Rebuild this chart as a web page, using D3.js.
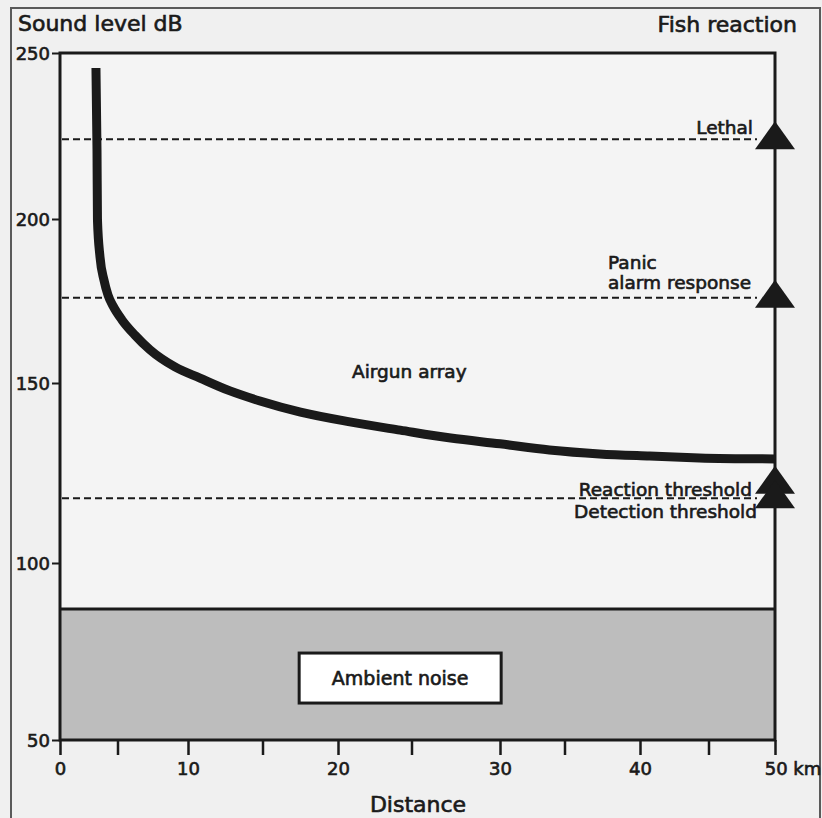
<!DOCTYPE html>
<html lang="en">
<head>
    <meta charset="UTF-8">
    <title>Sound level vs distance</title>
    <script src="https://cdnjs.cloudflare.com/ajax/libs/d3/7.8.5/d3.min.js"></script>
    <style>
        * {
            margin: 0;
            padding: 0;
        }
        body {
            background-color: #f0f0f0;
            width: 822px;
            height: 818px;
            overflow: hidden;
        }
        svg text {
            font-family: "DejaVu Sans", Arial, sans-serif;
            fill: #1a1a1a;
            stroke: #1a1a1a;
            stroke-width: 0.65px;
        }
    </style>
</head>
<body>
    <div id="chart"></div>

    <script>
        // sound level of the airgun array against distance
        const distanceKm = [3.1, 3.19, 3.23, 3.45, 3.79, 4.14, 4.57, 5.29, 6.21, 7.29, 9.07, 10.8,
            12.8, 14.8, 17.5, 20.8, 24.2, 27.2, 30.0, 33.8, 37.3, 40.7, 44.3, 50];
        const soundDb = [245.5, 220.8, 199.7, 188.4, 181.4, 176.8, 173.5, 169.2, 164.6, 160.1, 154.9, 151.5,
            147.8, 145.0, 141.9, 139.2, 136.9, 134.7, 133.1, 131.4, 130.3, 129.7, 129.2, 128.9];

        // fish reaction levels (dB)
        const reactionNames = ['Lethal', 'Panic', 'Reaction threshold', 'Detection threshold'];
        const reactionDb = [224, 176, 122, 118];
        const dashedLevels = [224, 176, 118];

        const ambientNoiseDb = [50, 87];

        const yTicks = [50, 100, 150, 200, 250];
        const xTicks = [0, 10, 20, 30, 40, 50];
        const xMinorTicks = [5, 15, 25, 35, 45];

        const W = 822, H = 818;

        const svg = d3.select('#chart')
            .append('svg')
            .attr('width', W)
            .attr('height', H);

        // the printed axes are not evenly spaced, so the scales follow the printed ticks
        const x = d3.scaleLinear()
            .domain([0, 5, 10, 15, 20, 25, 30, 35, 40, 45, 50])
            .range([60, 118, 188, 263, 338, 412, 500, 565, 640, 709, 775]);
        const y = d3.scaleLinear()
            .domain([50, 100, 150, 200, 250])
            .range([740, 563, 383, 219, 53]);

        // outer frame
        svg.append('path')
            .attr('d', `M11,${H} V8 H820 V${H}`)
            .attr('fill', 'none')
            .attr('stroke', '#5a5a5a')
            .attr('stroke-width', 2);

        // plot area
        svg.append('rect')
            .attr('x', x(0)).attr('y', y(250))
            .attr('width', x(50) - x(0)).attr('height', y(50) - y(250))
            .attr('fill', '#f4f4f4');

        // ambient noise band
        svg.append('rect')
            .attr('x', x(0)).attr('y', y(ambientNoiseDb[1]))
            .attr('width', x(50) - x(0))
            .attr('height', y(ambientNoiseDb[0]) - y(ambientNoiseDb[1]))
            .attr('fill', '#bdbdbd');
        svg.append('line')
            .attr('x1', x(0)).attr('x2', x(50))
            .attr('y1', y(ambientNoiseDb[1])).attr('y2', y(ambientNoiseDb[1]))
            .attr('stroke', '#1a1a1a').attr('stroke-width', 3);

        const noiseCx = x(24.2), noiseCy = y(67.5);
        svg.append('rect')
            .attr('x', noiseCx - 101).attr('y', noiseCy - 25)
            .attr('width', 202).attr('height', 50)
            .attr('fill', '#ffffff')
            .attr('stroke', '#1a1a1a').attr('stroke-width', 3);
        svg.append('text')
            .attr('x', noiseCx).attr('y', noiseCy + 7)
            .attr('text-anchor', 'middle')
            .attr('font-size', 19)
            .text('Ambient noise');

        // dashed reaction levels
        svg.append('g')
            .selectAll('line')
            .data(dashedLevels)
            .enter().append('line')
            .attr('x1', x(0) + 2).attr('x2', x(50) - 18)
            .attr('y1', d => y(d)).attr('y2', d => y(d))
            .attr('stroke', '#1a1a1a')
            .attr('stroke-width', 2)
            .attr('stroke-dasharray', '7,4');

        // plot box
        svg.append('rect')
            .attr('x', x(0)).attr('y', y(250))
            .attr('width', x(50) - x(0)).attr('height', y(50) - y(250))
            .attr('fill', 'none')
            .attr('stroke', '#1a1a1a')
            .attr('stroke-width', 3);

        // y axis
        const yAxis = svg.append('g')
            .attr('transform', `translate(${x(0)},0)`)
            .call(d3.axisLeft(y).tickValues(yTicks).tickSize(8).tickPadding(2));
        yAxis.select('.domain').remove();
        yAxis.selectAll('line').attr('stroke', '#1a1a1a').attr('stroke-width', 2);
        yAxis.selectAll('text')
            .attr('font-size', 18)
            .attr('dy', '0.36em')
            .style('font-family', '"DejaVu Sans", Arial, sans-serif');

        // x axis
        const xAxis = svg.append('g')
            .attr('transform', `translate(0,${y(50)})`)
            .call(d3.axisBottom(x).tickValues(xTicks).tickSize(15).tickPadding(7));
        xAxis.select('.domain').remove();
        xAxis.selectAll('line').attr('stroke', '#1a1a1a').attr('stroke-width', 2.5);
        xAxis.selectAll('text')
            .attr('font-size', 18)
            .style('font-family', '"DejaVu Sans", Arial, sans-serif');
        xAxis.selectAll('.tick')
            .filter(d => d === 50)
            .select('text')
            .attr('text-anchor', 'start')
            .attr('dx', '-0.6em')
            .text('50 km');

        svg.append('g')
            .selectAll('line')
            .data(xMinorTicks)
            .enter().append('line')
            .attr('x1', d => x(d)).attr('x2', d => x(d))
            .attr('y1', y(50)).attr('y2', y(50) + 15)
            .attr('stroke', '#1a1a1a')
            .attr('stroke-width', 2.5);

        // airgun curve
        const line = d3.line()
            .x(d => x(d[0]))
            .y(d => y(d[1]))
            .curve(d3.curveMonotoneX);

        svg.append('path')
            .datum(distanceKm.map((d, i) => [d, soundDb[i]]))
            .attr('d', line)
            .attr('fill', 'none')
            .attr('stroke', '#1a1a1a')
            .attr('stroke-width', 9);

        // triangles at the fish reaction levels
        svg.append('g')
            .selectAll('path')
            .data(reactionDb)
            .enter().append('path')
            .attr('d', d => {
                const cx = x(50), cy = y(d);
                return `M${cx},${cy - 18} L${cx + 20},${cy + 10} L${cx - 20},${cy + 10} Z`;
            })
            .attr('fill', '#1a1a1a');

        // labels
        svg.append('text')
            .attr('x', 18).attr('y', 31)
            .attr('font-size', 22)
            .text('Sound level dB');
        svg.append('text')
            .attr('x', 797).attr('y', 32)
            .attr('text-anchor', 'end')
            .attr('font-size', 22)
            .text('Fish reaction');

        svg.append('text')
            .attr('x', x(25) + 6).attr('y', y(50) + 72)
            .attr('text-anchor', 'middle')
            .attr('font-size', 22)
            .text('Distance');

        svg.append('text')
            .attr('x', 352).attr('y', 378)
            .attr('font-size', 18.5)
            .text('Airgun array');

        svg.append('text')
            .attr('x', 753).attr('y', y(reactionDb[0]) - 5)
            .attr('text-anchor', 'end')
            .attr('font-size', 18.5)
            .text(reactionNames[0]);

        const panic = svg.append('text')
            .attr('x', 608).attr('y', y(reactionDb[1]) - 29)
            .attr('font-size', 18.5);
        panic.append('tspan').attr('x', 608).text(reactionNames[1]);
        panic.append('tspan').attr('x', 608).attr('dy', 20).text('alarm response');

        svg.append('text')
            .attr('x', 752).attr('y', y(reactionDb[3]) - 2)
            .attr('text-anchor', 'end')
            .attr('font-size', 18.5)
            .text(reactionNames[2]);
        svg.append('text')
            .attr('x', 757).attr('y', y(reactionDb[3]) + 20)
            .attr('text-anchor', 'end')
            .attr('font-size', 18.5)
            .text(reactionNames[3]);
    </script>
</body>
</html>
